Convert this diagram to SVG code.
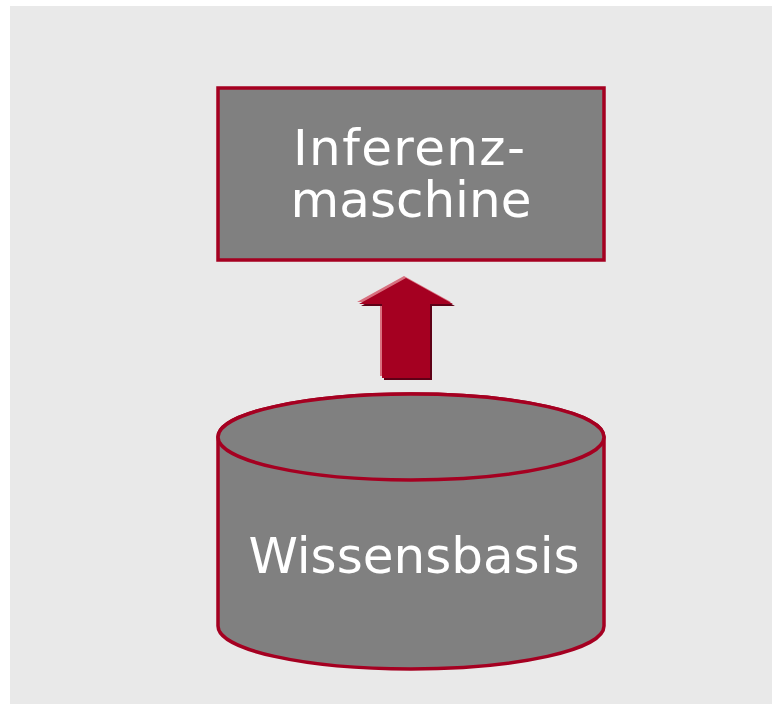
<svg xmlns="http://www.w3.org/2000/svg" width="772" height="704" viewBox="0 0 772 704">
<style>
.shape{fill:#808080;stroke:#A50021;stroke-width:3.5}
.lbl{font-family:"DejaVu Sans",Verdana,sans-serif;font-size:50px;fill:#ffffff;text-anchor:middle}
</style>
<rect x="0" y="0" width="772" height="704" fill="#ffffff"/>
<rect x="10" y="6" width="762" height="698" fill="#E9E9E9"/>
<g id="inferenzmaschine">
<rect class="shape" x="218" y="88" width="386" height="172"/>
<text class="lbl"><tspan x="409" y="165" textLength="232" lengthAdjust="spacing">Inferenz-</tspan><tspan x="411" y="217">maschine</tspan></text>
</g>
<g id="connectors">
<polygon points="404,276 357,302 380,302 380,376 428,376 428,302 451,302" fill="#D8707F"/>
<polygon points="408,280 361,306 384,306 384,380 432,380 432,306 455,306" fill="#5E0016"/>
<polygon points="406,278 359,304 382,304 382,378 430,378 430,304 453,304" fill="#A50021"/>
</g>
<g id="wissensbasis">
<path class="shape" d="M218,437 L218,626 A193,43 0 0 0 604,626 L604,437 A193,43 0 0 0 218,437 Z"/>
<ellipse class="shape" cx="411" cy="437" rx="193" ry="43"/>
<text class="lbl" x="414" y="573">Wissensbasis</text>
</g>
</svg>
